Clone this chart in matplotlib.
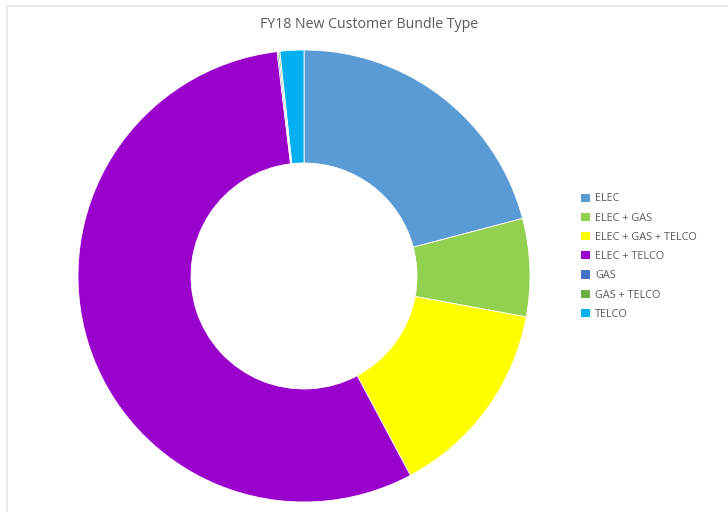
import matplotlib
matplotlib.use("Agg")
import matplotlib.pyplot as plt
from matplotlib.lines import Line2D
from matplotlib.patches import Patch

plt.rcParams['font.family'] = ['Open Sans', 'DejaVu Sans']

categories = ["ELEC", "ELEC + GAS", "ELEC + GAS + TELCO", "ELEC + TELCO",
              "GAS", "GAS + TELCO", "TELCO"]
shares = [20.9, 7.0, 14.3, 55.9, 0.1, 0.1, 1.7]
colors = ["#5B9BD5", "#92D050", "#FFFF00", "#9900CC",
          "#4472C4", "#70AD47", "#00B0F0"]
title = "FY18 New Customer Bundle Type"

W, H = 728, 512
fig = plt.figure(figsize=(W / 100, H / 100), dpi=100)
fig.patch.set_facecolor("white")

# light chart-area frame along the top and left
fig.add_artist(Line2D([7 / W, 1], [1 - 6 / H, 1 - 6 / H], color="#e6e6e6", lw=1.2))
fig.add_artist(Line2D([7 / W, 7 / W], [0, 1 - 6 / H], color="#e6e6e6", lw=1.2))

cx, cy, r = 304, 276, 226
ax = fig.add_axes([(cx - r) / W, (H - cy - r) / H, 2 * r / W, 2 * r / H])
ax.pie(shares, colors=colors, startangle=90, counterclock=False, radius=1.0,
       wedgeprops=dict(width=0.5, edgecolor="white", linewidth=0.6))
ax.set_xlim(-1.0, 1.0)
ax.set_ylim(-1.0, 1.0)
ax.set_aspect("equal")
ax.axis("off")

fig.text(369.5 / W, 1 - 25 / H, title, ha="center", va="center",
         fontsize=10.2, color="#595959")

handles = [Patch(facecolor=c, edgecolor="none") for c in colors]
leg = fig.legend(handles, categories, loc="upper left",
                 bbox_to_anchor=(576 / W, 1 - 188 / H), frameon=False,
                 fontsize=7.8, labelcolor="#595959", handlelength=0.8,
                 handleheight=0.8, handletextpad=0.45, labelspacing=0.76,
                 borderpad=0)

fig.savefig("out.png", dpi=100)
